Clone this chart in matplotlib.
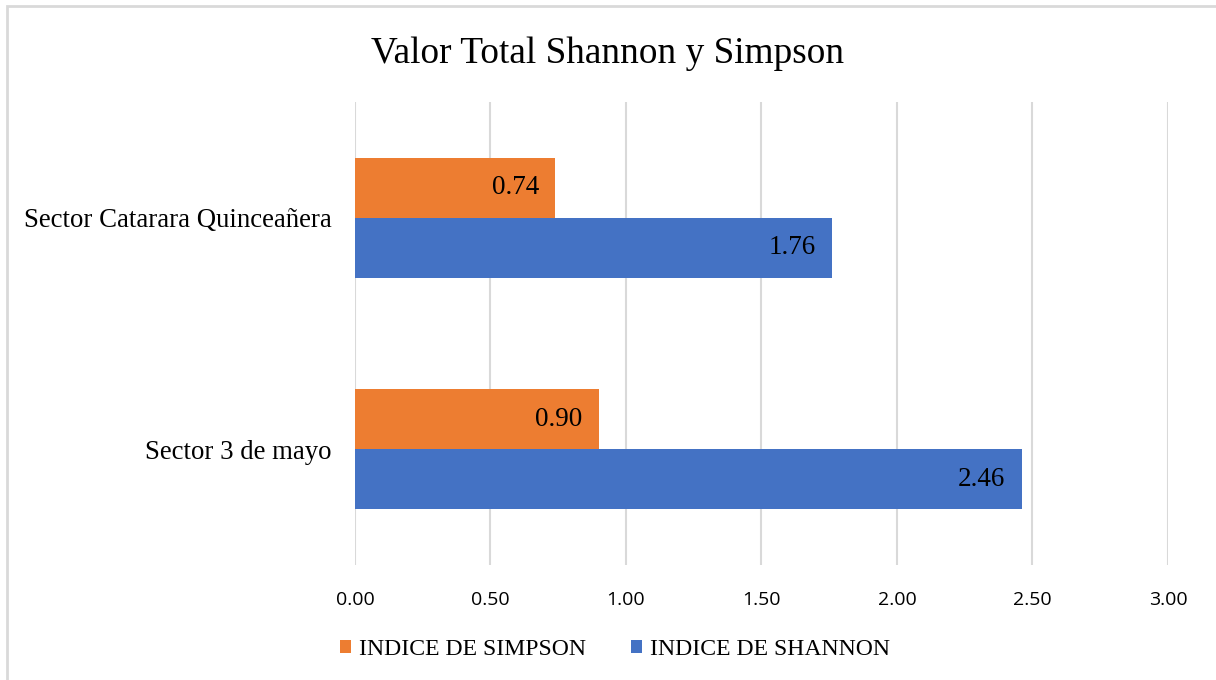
import numpy as np
import matplotlib
matplotlib.use("Agg")
import matplotlib.pyplot as plt
from matplotlib.patches import Rectangle

# datos
sectores = ["Sector 3 de mayo", "Sector Catarara Quinceañera"]
simpson = [0.90, 0.74]
shannon = [2.46, 1.76]
xticks = [0.0, 0.5, 1.0, 1.5, 2.0, 2.5, 3.0]

c_simpson = "#ED7D31"
c_shannon = "#4472C4"
serif = "Liberation Serif"
sans = "Open Sans"

fig = plt.figure(figsize=(12.16, 6.8), dpi=100)
ax = fig.add_axes([0.2919, 0.1691, 0.6686, 0.6809])

y = np.arange(len(sectores))
h = 0.26
b1 = ax.barh(y + h / 2, simpson, height=h, color=c_simpson, label="INDICE DE SIMPSON", zorder=2)
b2 = ax.barh(y - h / 2, shannon, height=h, color=c_shannon, label="INDICE DE SHANNON", zorder=2)

for bars, vals in [(b1, simpson), (b2, shannon)]:
    for bar, v in zip(bars, vals):
        ax.text(v - 0.06, bar.get_y() + bar.get_height() / 2, f"{v:.2f}",
                ha="right", va="center", fontsize=19.5, family=serif, color="black", zorder=3)

ax.set_xlim(0, 3.0)
ax.set_ylim(-0.5, 1.5)
ax.set_xticks(xticks)
ax.set_xticklabels([f"{t:.2f}" for t in xticks], family=sans, fontsize=14)
ax.set_yticks(y)
ax.set_yticklabels(sectores, family=serif, fontsize=19.3)
ax.tick_params(axis="both", length=0)
ax.tick_params(axis="x", pad=19)
ax.tick_params(axis="y", pad=17)
ax.grid(axis="x", color="#D9D9D9", linewidth=1.5, zorder=0)
for s in ax.spines.values():
    s.set_visible(False)

fig.suptitle("Valor Total Shannon y Simpson", family=serif, fontsize=26.8, y=0.947)

leg = fig.legend(handles=[b1, b2], loc="center", bbox_to_anchor=(0.506, 0.045), ncol=2,
                 frameon=False, prop={"family": serif, "size": 17.1}, handlelength=0.45,
                 handleheight=0.45, handletextpad=0.35, columnspacing=1.9)

# borde del grafico
fig.patches.append(Rectangle((7 / 1216, -0.1), 1.2, 1.1 - 6 / 680, transform=fig.transFigure,
                             fill=False, edgecolor="#D9D9D9", linewidth=2, figure=fig))

fig.savefig("out.png", dpi=100)
